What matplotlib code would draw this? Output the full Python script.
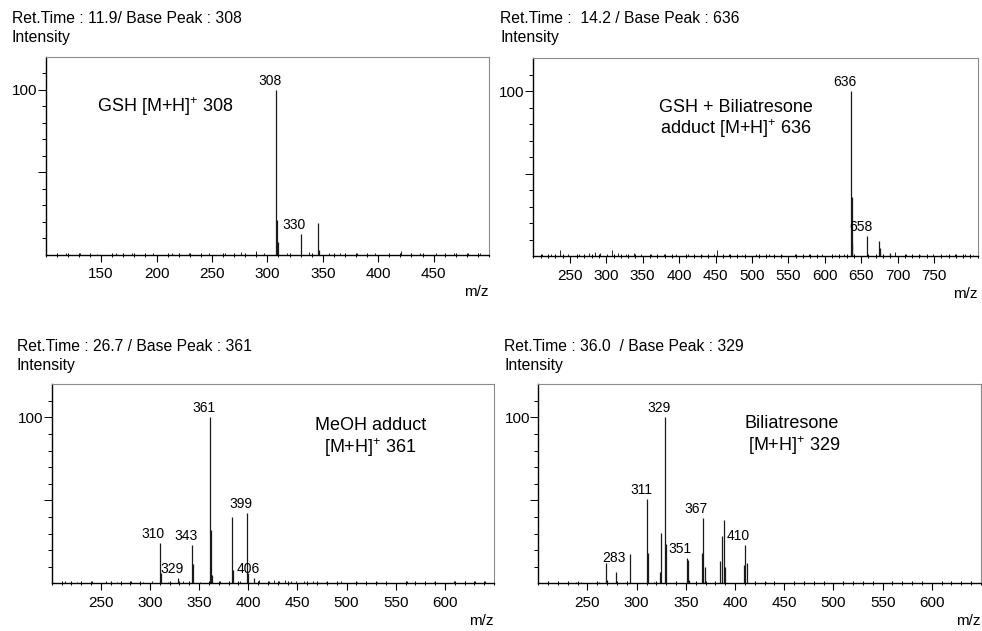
import numpy as np
import matplotlib
matplotlib.use("Agg")
import matplotlib.pyplot as plt
from matplotlib.ticker import MultipleLocator, FixedLocator

plt.rcParams["font.family"] = ["Liberation Sans", "DejaVu Sans"]
plt.rcParams["mathtext.fontset"] = "custom"
plt.rcParams["mathtext.rm"] = "Liberation Sans"

W, H = 982, 631

# ── panel A: GSH ──────────────────────────────────────────────────────────────
gsh_mz = [308, 309, 310, 330, 346, 347]
gsh_int = [100, 21, 8, 12.7, 19.2, 3]
gsh_noise_mz = [118, 131, 146, 163, 178, 197, 214, 229, 247, 262, 276, 290, 297,
                318, 338, 356, 366, 381, 397, 421, 438, 452, 468, 481, 492]
gsh_noise_int = [0.8, 1.0, 0.7, 1.2, 0.8, 1.0, 0.9, 1.2, 0.8, 1.0, 1.4, 2.5, 1.2,
                 1.0, 1.5, 0.9, 1.0, 0.8, 1.1, 2.2, 0.8, 1.0, 0.9, 1.1, 0.8]
gsh_lab_mz = [308, 330]
gsh_lab_y = [100, 12.7]
gsh_xticks = [150, 200, 250, 300, 350, 400, 450]

# ── panel B: GSH + Biliatresone adduct ───────────────────────────────────────
add_mz = [636, 637, 638, 658, 675, 676, 690]
add_int = [100, 36, 8, 12.2, 9, 5, 2]
add_noise_mz = [212, 224, 236, 247, 262, 276, 284, 292, 301, 308, 316, 327, 338,
                348, 362, 379, 396, 412, 431, 448, 452, 468, 487, 505, 523, 541,
                559, 578, 596, 614, 626, 697, 712, 731, 749, 766, 779, 792, 803]
add_noise_int = [1.2, 1.5, 3.5, 1.4, 1.0, 1.8, 2.2, 1.6, 1.3, 3.8, 1.9, 1.2, 1.7,
                 1.4, 1.0, 1.3, 1.1, 1.5, 0.9, 1.2, 3.8, 1.1, 0.9, 1.3, 1.1, 0.9,
                 1.2, 1.0, 1.3, 0.9, 1.1, 2.5, 1.0, 0.9, 1.2, 0.9, 1.5, 1.0, 0.8]
add_lab_mz = [636, 658]
add_lab_y = [100, 12.2]
add_xticks = [250, 300, 350, 400, 450, 500, 550, 600, 650, 700, 750]

# ── panel C: MeOH adduct ─────────────────────────────────────────────────────
meoh_mz = [310, 311, 329, 343, 344, 361, 362, 363, 383, 384, 399, 400, 406]
meoh_int = [24.2, 6, 3, 23.2, 11.7, 100, 32.3, 5, 39.8, 8, 42.4, 6, 3]
meoh_noise_mz = [214, 226, 241, 255, 266, 281, 293, 302, 318, 334, 351, 371, 392,
                 411, 421, 426, 431, 437, 443, 449, 457, 466, 479, 494, 511, 531,
                 561, 589, 609, 621, 631, 641]
meoh_noise_int = [1.5, 1.0, 1.2, 1.4, 1.0, 1.2, 1.0, 1.1, 0.9, 1.3, 1.0, 1.1, 1.2,
                  1.8, 1.5, 2.0, 1.6, 1.8, 1.2, 1.5, 1.1, 1.3, 1.0, 1.2, 1.0, 0.9,
                  1.1, 1.0, 1.4, 1.2, 1.5, 1.1]
meoh_lab_mz = [310, 329, 343, 361, 399, 406]
meoh_lab_y = [24.2, 3, 23.2, 100, 42.4, 3]
low_xticks = [250, 300, 350, 400, 450, 500, 550, 600]

# ── panel D: Biliatresone ────────────────────────────────────────────────────
bil_mz = [269, 270, 279, 293, 311, 312, 324, 325, 329, 330, 351, 352, 353,
          366, 367, 369, 385, 387, 389, 390, 409, 410, 412]
bil_int = [12, 2, 7, 17.7, 50.7, 18, 7, 30.6, 100, 23.5, 15, 14, 2,
           18, 39.6, 10, 13.6, 28.6, 38.2, 10, 11, 23, 12]
bil_noise_mz = [238, 243, 262, 318, 431]
bil_noise_int = [0.6, 0.8, 0.6, 0.7, 0.6]
bil_lab_mz = [283, 311, 329, 351, 367, 410]
bil_lab_y = [10, 50.7, 100, 15, 39.6, 23]


def px_rect(left, right, top, bottom):
    return [left / W, 1 - bottom / H, (right - left) / W, (bottom - top) / H]


def panel(fig, rect, title, title_xy, xlim, xticks, mz, inten, nmz, nint,
          lab_mz, lab_y, note, note_xy, note_ha):
    ax = fig.add_axes(rect)
    ax.vlines(nmz, 0, nint, color="black", lw=0.6)
    ax.vlines(mz, 0, inten, color="#1a1a1a", lw=0.9)
    for m, y in zip(lab_mz, lab_y):
        ax.annotate(str(m), (m, y), xytext=(-4.6, 1.5), textcoords="offset points",
                    ha="center", va="bottom", fontsize=10)
    ax.text(note_xy[0], note_xy[1], note, ha=note_ha, va="center", fontsize=13,
            linespacing=1.1, multialignment="center")
    ax.set_xlim(*xlim)
    ax.set_ylim(0, 120)

    ax.xaxis.set_major_locator(FixedLocator(xticks))
    ax.xaxis.set_minor_locator(MultipleLocator(10))
    ax.yaxis.set_major_locator(FixedLocator([50, 100]))
    ax.yaxis.set_minor_locator(FixedLocator([10, 20, 30, 40, 60, 70, 80, 90, 110]))
    ax.set_yticklabels(["", "100"])
    ax.tick_params(axis="x", which="major", direction="out", length=5, width=0.8,
                   labelsize=11, pad=4)
    ax.tick_params(axis="x", which="minor", direction="inout", length=3.5, width=0.7)
    ax.tick_params(axis="y", which="major", direction="out", length=5.5, width=0.7,
                   labelsize=11, pad=0.5)
    ax.tick_params(axis="y", which="minor", direction="out", length=3, width=0.7)
    for s in ("left", "bottom"):
        ax.spines[s].set_color("black")
        ax.spines[s].set_linewidth(1.0)
    for s in ("top", "right"):
        ax.spines[s].set_color("#8a8a8a")
        ax.spines[s].set_linewidth(0.8)

    ax.text(1.0, -0.19, "m/z", transform=ax.transAxes, ha="right", va="center",
            fontsize=11)
    fig.text(title_xy[0] / W, 1 - title_xy[1] / H, title, ha="left", va="center",
             fontsize=11.3)
    fig.text(title_xy[0] / W, 1 - (title_xy[1] + 19) / H, "Intensity", ha="left",
             va="center", fontsize=11.3)
    return ax


fig = plt.figure(figsize=(W / 100, H / 100), dpi=100)

panel(fig, px_rect(45.7, 489, 56.7, 254.7), "Ret.Time : 11.9/ Base Peak : 308",
      (11.7, 18.5), (100, 500), gsh_xticks, gsh_mz, gsh_int, gsh_noise_mz,
      gsh_noise_int, gsh_lab_mz, gsh_lab_y, "GSH [M+H]$^{+}$ 308", (146, 89.7),
      "left")

panel(fig, px_rect(532.7, 977.7, 58.3, 256), "Ret.Time :  14.2 / Base Peak : 636",
      (500, 18.8), (199, 810), add_xticks, add_mz, add_int, add_noise_mz,
      add_noise_int, add_lab_mz, add_lab_y,
      "GSH + Biliatresone\nadduct [M+H]$^{+}$ 636", (478, 83), "center")

panel(fig, px_rect(51.7, 494, 384.3, 583.3), "Ret.Time : 26.7 / Base Peak : 361",
      (16.7, 346.7), (200, 650), low_xticks, meoh_mz, meoh_int, meoh_noise_mz,
      meoh_noise_int, meoh_lab_mz, meoh_lab_y, "MeOH adduct\n[M+H]$^{+}$ 361",
      (524.6, 87.6), "center")

panel(fig, px_rect(538.3, 981, 384.3, 583.3), "Ret.Time : 36.0  / Base Peak : 329",
      (504.3, 346.7), (200, 650), low_xticks, bil_mz, bil_int, bil_noise_mz,
      bil_noise_int, bil_lab_mz, bil_lab_y, "Biliatresone\n [M+H]$^{+}$ 329",
      (458, 88.8), "center")

fig.savefig("out.png", dpi=100)
